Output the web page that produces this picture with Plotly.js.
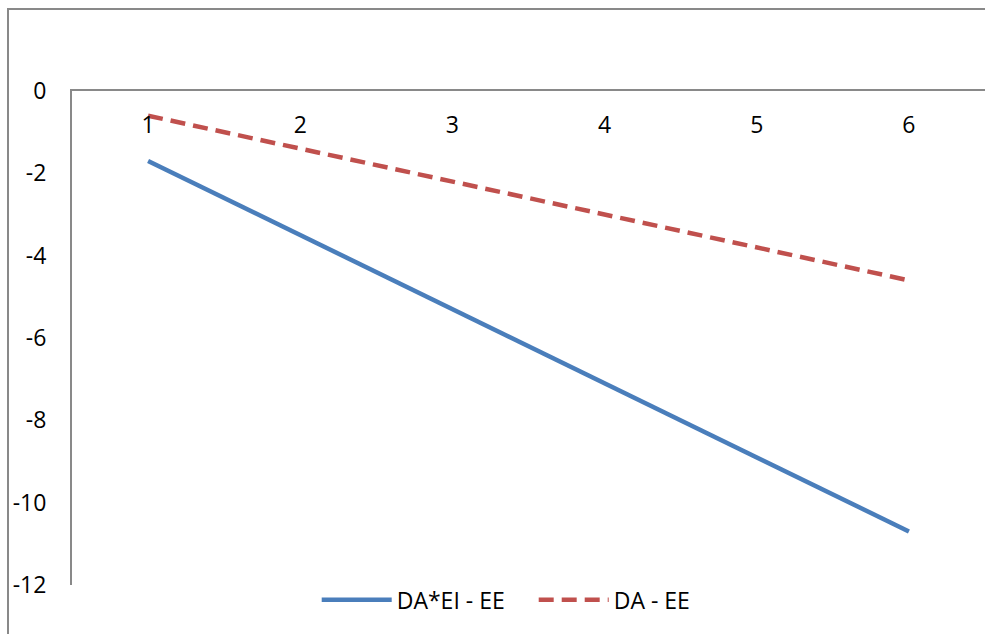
<!DOCTYPE html>
<html>
<head>
<meta charset="utf-8">
<script src="https://cdn.plot.ly/plotly-3.0.1.min.js"></script>
<style>html,body{margin:0;padding:0;background:#fff;}#chart{width:985px;height:634px;}</style>
</head>
<body>
<div id="chart"></div>
<script>
const categories = [1, 2, 3, 4, 5, 6];
const seriesNames = ["DA*EI - EE", "DA - EE"];
const daEiEe = [-1.7, -3.5, -5.3, -7.1, -8.9, -10.7];
const daEe = [-0.6, -1.4, -2.2, -3.0, -3.8, -4.6];
const yTicks = [0, -2, -4, -6, -8, -10, -12];

const font = {family: "Open Sans, Lato, sans-serif", size: 23, color: "#000"};

const traces = [
  {x: categories, y: daEiEe, name: seriesNames[0], type: "scatter", mode: "lines",
   line: {color: "#4A7EBB", width: 4.5}},
  {x: categories, y: daEe, name: seriesNames[1], type: "scatter", mode: "lines",
   line: {color: "#C0504D", width: 4.5, dash: "15px,8px"}},
  // helper (draws nothing) so the category-label axis exists
  {x: categories, y: daEe, xaxis: "x2", type: "scatter", mode: "none",
   showlegend: false, hoverinfo: "skip"}
];

const layout = {
  width: 985, height: 634,
  margin: {l: 72, r: 0, t: 91, b: 49},
  paper_bgcolor: "#fff", plot_bgcolor: "#fff",
  font: font,
  showlegend: true,
  legend: {orientation: "h", x: 0.5057, xanchor: "center", y: -0.03, yanchor: "middle",
           font: font, itemwidth: 70, entrywidth: 132, tracegroupgap: 0, bgcolor: "rgba(0,0,0,0)"},
  xaxis: {type: "linear", range: [0.5, 6.5], side: "top", showticklabels: false, ticks: "",
          showgrid: false, zeroline: false, showline: true, linecolor: "#898989", linewidth: 2,
          fixedrange: true},
  xaxis2: {type: "linear", range: [0.5, 6.5], overlaying: "x", anchor: "free", position: 1,
           side: "bottom", tickvals: categories, ticktext: categories.map(String), ticks: "",
           showgrid: false, zeroline: false, showline: false,
           ticklabelstandoff: 18, tickfont: font, fixedrange: true},
  yaxis: {range: [-12, 0], tickvals: yTicks, ticktext: yTicks.map(String), ticks: "",
          showgrid: false, zeroline: false, showline: true, linecolor: "#898989", linewidth: 2,
          ticklabelstandoff: 19, tickfont: font, fixedrange: true},
  shapes: [{type: "rect", xref: "paper", yref: "paper",
            x0: (8 - 72) / 913, x1: 1.1, y0: -0.5, y1: (585 - 9) / 494,
            line: {color: "#898989", width: 2}, fillcolor: "rgba(0,0,0,0)", layer: "below"}]
};

Plotly.newPlot("chart", traces, layout, {displayModeBar: false, staticPlot: true});
</script>
</body>
</html>
